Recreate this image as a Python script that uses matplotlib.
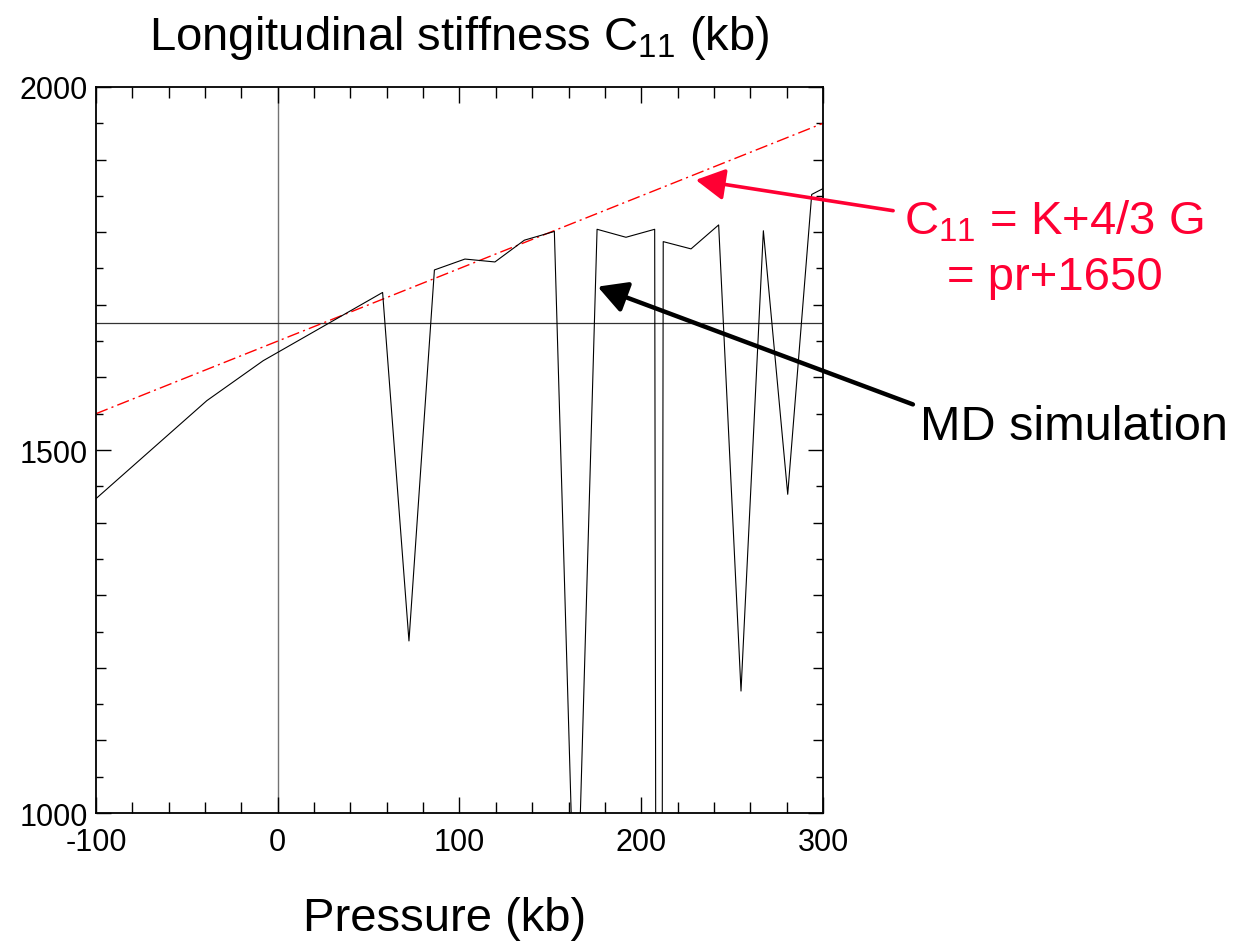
import numpy as np
import matplotlib
matplotlib.use("Agg")
import matplotlib.pyplot as plt
from matplotlib.ticker import FixedLocator, NullFormatter

plt.rcParams['font.family'] = ['Liberation Sans', 'DejaVu Sans']
plt.rcParams['mathtext.fontset'] = 'custom'
plt.rcParams['mathtext.rm'] = 'Liberation Sans'
plt.rcParams['mathtext.it'] = 'Liberation Sans:italic'
plt.rcParams['axes.unicode_minus'] = False

# MD simulation: C11 (kb) vs pressure (kb)
pressure = [-100, -39, -8, 57.7, 72.2, 86.2, 103, 119.5, 135.7, 152.2, 164, 175.7,
            191.6, 207.4, 209.8, 212.1, 227.4, 242.6, 254.9, 267.2, 280.6, 293.8, 300]
c11 = [1433, 1568, 1623, 1717, 1237, 1748, 1763, 1759, 1789, 1801, 780, 1804,
       1793, 1804, -1750, 1787, 1777, 1810, 1168, 1802, 1439, 1852, 1860]

# linear fit C11 = pr + 1650
fit_p = np.array([-100, 300])
fit_slope = 1.0
fit_icpt = 1650

ref_c11 = 1675  # horizontal reference line
red = '#ff0033'

fig = plt.figure(figsize=(12.37, 9.45), dpi=100)
ax = fig.add_axes([0.0776, 0.1386, 0.5877, 0.7683])

ax.axvline(0, color='0.45', lw=1.0, zorder=1)
ax.axhline(ref_c11, color='0.2', lw=0.9, zorder=1)
ax.plot(fit_p, fit_slope * fit_p + fit_icpt, color='red', lw=1.0,
        linestyle=(0, (9, 3, 1.5, 3)), zorder=2)
ax.plot(pressure, c11, color='black', lw=0.8, zorder=3)

ax.set_xlim(-100, 300)
ax.set_ylim(1000, 2000)

for s in ax.spines.values():
    s.set_linewidth(1.3)

ax.xaxis.set_major_locator(FixedLocator([-100, 0, 100, 200, 300]))
ax.xaxis.set_minor_locator(FixedLocator([v for v in range(-80, 300, 20) if v % 100]))
ax.yaxis.set_major_locator(FixedLocator([1000, 1500, 2000]))
y_minor = [v for v in range(1050, 2000, 50) if v % 500]
ax.yaxis.set_minor_locator(FixedLocator(y_minor))
ax.yaxis.set_minor_formatter(NullFormatter())

ax.tick_params(axis='both', which='both', direction='in', top=True, right=True,
               width=1.0, colors='black', labelsize=22)
ax.tick_params(axis='x', which='major', length=11.5, pad=10)
ax.tick_params(axis='x', which='minor', length=7.7)
ax.tick_params(axis='y', which='major', length=10.8, pad=6)
ax.tick_params(axis='y', which='minor', length=5)

# medium-length ticks at every 100 kb on the y axis
for loc, tick in zip(y_minor, ax.yaxis.get_minor_ticks(len(y_minor))):
    if loc % 100 == 0:
        tick.tick1line.set_markersize(7.2)
        tick.tick2line.set_markersize(7.2)

ax.set_title(r'Longitudinal stiffness C$_{11}$ (kb)', fontsize=34, pad=27)
ax.set_xlabel('Pressure (kb)', fontsize=34, labelpad=28)
ax.xaxis.label.set_x(0.48)

# annotations
ax.annotate('', xy=(230, 1872), xytext=(0.722, 0.776), textcoords='figure fraction',
            arrowprops=dict(arrowstyle='-|>,head_length=0.55,head_width=0.3', color=red,
                            lw=2.6, mutation_scale=32, shrinkA=0, shrinkB=0))
ax.annotate('', xy=(176, 1725), xytext=(0.738, 0.571), textcoords='figure fraction',
            arrowprops=dict(arrowstyle='-|>,head_length=0.55,head_width=0.3', color='black',
                            lw=3.2, mutation_scale=32, shrinkA=0, shrinkB=0))

fig.text(0.852, 1 - 234 / 945, r'C$_{11}$ = K+4/3 G', color=red, fontsize=34,
         ha='center', va='baseline')
fig.text(0.853, 1 - 290 / 945, '= pr+1650', color=red, fontsize=34,
         ha='center', va='baseline')
fig.text(0.744, 1 - 440 / 945, 'MD simulation', color='black', fontsize=35,
         ha='left', va='baseline')

fig.savefig('out.png', dpi=100)
